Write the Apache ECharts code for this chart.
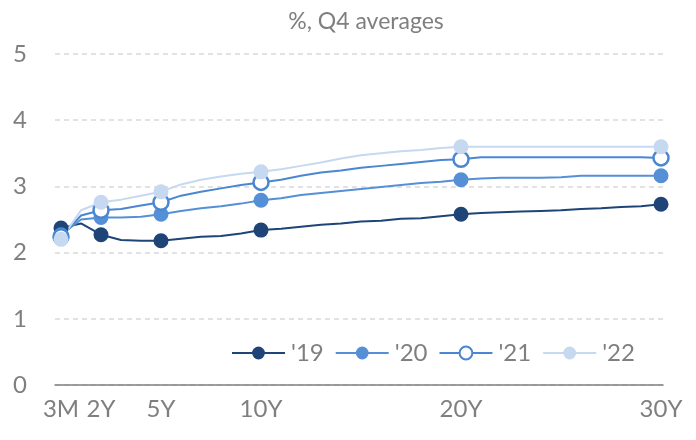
<!DOCTYPE html>
<html>
<head>
<meta charset="utf-8">
<script src="https://cdn.jsdelivr.net/npm/echarts@6/dist/echarts.min.js"></script>
<style>
  html, body { margin: 0; padding: 0; background: #fff; }
  #chart { width: 696px; height: 440px; }
</style>
</head>
<body>
<div id="chart"></div>
<script>
// Maturity in years (3M placed at 0), one point per year along the curve
const maturities = [0, 1, 2, 3, 4, 5, 6, 7, 8, 9, 10, 11, 12, 13, 14, 15, 16, 17, 18, 19, 20, 21, 22, 23, 24, 25, 26, 27, 28, 29, 30];

// Maturities that carry a marker, and their tick labels
const markerMaturities = [0, 2, 5, 10, 20, 30];
const tickLabels = ['3M', '2Y', '5Y', '10Y', '20Y', '30Y'];

// Q4 average yields, %
const y2019 = [2.37, 2.44, 2.27, 2.19, 2.18, 2.18, 2.21, 2.24, 2.25, 2.29, 2.34, 2.36, 2.39, 2.42, 2.44, 2.47, 2.48, 2.51, 2.52, 2.55, 2.58, 2.60, 2.61, 2.62, 2.63, 2.64, 2.66, 2.67, 2.69, 2.70, 2.73];
const y2020 = [2.27, 2.50, 2.53, 2.53, 2.54, 2.58, 2.63, 2.67, 2.70, 2.74, 2.79, 2.82, 2.87, 2.90, 2.93, 2.96, 2.99, 3.02, 3.05, 3.07, 3.10, 3.12, 3.13, 3.13, 3.13, 3.14, 3.16, 3.16, 3.16, 3.16, 3.16];
const y2021 = [2.24, 2.56, 2.64, 2.66, 2.71, 2.76, 2.86, 2.92, 2.97, 3.02, 3.06, 3.10, 3.16, 3.21, 3.24, 3.28, 3.31, 3.34, 3.37, 3.40, 3.41, 3.44, 3.44, 3.44, 3.44, 3.44, 3.44, 3.44, 3.44, 3.44, 3.43];
const y2022 = [2.20, 2.64, 2.76, 2.80, 2.86, 2.92, 3.03, 3.10, 3.15, 3.19, 3.22, 3.26, 3.31, 3.36, 3.42, 3.47, 3.50, 3.53, 3.55, 3.58, 3.60, 3.60, 3.60, 3.60, 3.60, 3.60, 3.60, 3.60, 3.60, 3.60, 3.60];

const seriesNames = ["'19", "'20", "'21", "'22"];
const yTicks = [0, 1, 2, 3, 4, 5];

const FONT = 'Lato';
const GREY = '#7f7f7f';

function curve(values) {
  return maturities.map((m, i) => ({
    value: [m, values[i]],
    symbol: markerMaturities.includes(m) ? 'circle' : 'none'
  }));
}

function lineSeries(name, values, lineColor, fill, border) {
  return {
    name: name,
    type: 'line',
    data: curve(values),
    symbol: 'circle',
    symbolSize: 15,
    showSymbol: true,
    showAllSymbol: true,
    lineStyle: { color: lineColor, width: 2 },
    itemStyle: border
      ? { color: fill, borderColor: lineColor, borderWidth: 2.5, opacity: 1 }
      : { color: fill, borderWidth: 0, opacity: 1 },
    emphasis: { disabled: true },
    animation: false
  };
}

const chart = echarts.init(document.getElementById('chart'));
chart.setOption({
  backgroundColor: '#ffffff',
  title: {
    text: '%, Q4 averages',
    left: 361,
    textAlign: 'center',
    top: 5,
    textStyle: { fontFamily: FONT, fontSize: 23, fontWeight: 'normal', color: GREY }
  },
  legend: {
    data: seriesNames,
    left: 231,
    top: 341,
    padding: 0,
    itemWidth: 53,
    itemHeight: 16,
    itemGap: 11,
    textStyle: { fontFamily: FONT, fontSize: 24, color: GREY, padding: [0, 0, 0, 1] }
  },
  grid: { left: 55, right: 33, top: 54, bottom: 55 },
  xAxis: {
    type: 'value',
    min: -0.3,
    max: 30.1,
    axisLine: { show: true, lineStyle: { color: '#808080', width: 1.5 } },
    axisTick: { show: false },
    splitLine: { show: false },
    axisLabel: {
      customValues: markerMaturities,
      formatter: (v) => tickLabels[markerMaturities.indexOf(v)] || '',
      margin: 12,
      fontFamily: FONT,
      fontSize: 24,
      color: GREY
    }
  },
  yAxis: {
    type: 'value',
    min: yTicks[0],
    max: yTicks[yTicks.length - 1],
    interval: 1,
    axisLine: { show: false },
    axisTick: { show: false },
    axisLabel: { margin: 28, fontFamily: FONT, fontSize: 24, color: GREY, align: 'right' },
    splitLine: { lineStyle: { color: '#d9d9d9', width: 1.5, type: [5, 4] } }
  },
  series: [
    lineSeries(seriesNames[0], y2019, '#1f4478', '#1f4478', false),
    lineSeries(seriesNames[1], y2020, '#5590d6', '#5590d6', false),
    lineSeries(seriesNames[2], y2021, '#4a86d2', '#ffffff', true),
    lineSeries(seriesNames[3], y2022, '#c6d9f0', '#c6d9f0', false)
  ]
});
</script>
</body>
</html>
